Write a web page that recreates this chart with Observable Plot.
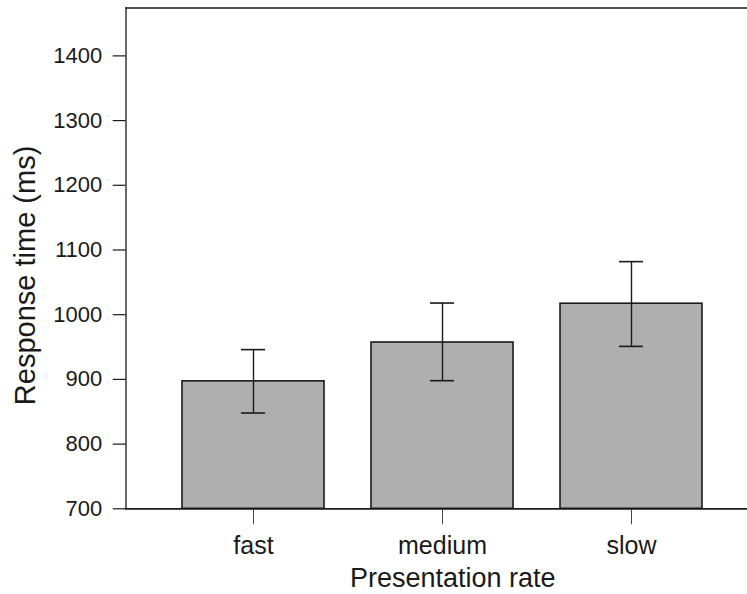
<!DOCTYPE html>
<html>
<head>
<meta charset="utf-8">
<script src="https://cdn.jsdelivr.net/npm/d3@7"></script>
<script src="https://cdn.jsdelivr.net/npm/@observablehq/plot@0.6"></script>
<style>
  html, body { margin: 0; padding: 0; background: #fff; overflow: hidden; }
</style>
</head>
<body>
<div id="chart"></div>
<script>
const categories = ["fast", "medium", "slow"];
const means = [897, 957, 1017];
const lower = [848, 898, 951];
const upper = [946, 1018, 1082];
const yTicks = [700, 800, 900, 1000, 1100, 1200, 1300, 1400];
const yDomain = [700, 1474];
const xTitle = "Presentation rate";
const yTitle = "Response time (ms)";

const data = categories.map((c, i) => ({cat: c, mean: means[i], lo: lower[i], hi: upper[i], base: yDomain[0]}));

const ink = "#1a1a1a";

const chart = Plot.plot({
  width: 747,
  height: 594,
  marginLeft: 125.5,
  marginRight: 0,
  marginTop: 7.5,
  marginBottom: 85.7,
  style: {fontFamily: "'Liberation Sans', Arial, sans-serif", color: ink, background: "#fff"},
  x: {domain: categories, range: [125.5, 758.3], paddingInner: 0.25, paddingOuter: 0.293, axis: null},
  y: {domain: yDomain, axis: null},
  marks: [
    Plot.barY(data, {x: "cat", y1: "base", y2: "mean", fill: "#afafaf", stroke: ink, strokeWidth: 1.6}),
    Plot.ruleX(data, {x: "cat", y1: "lo", y2: "hi", stroke: ink, strokeWidth: 1.4}),
    Plot.tickY(data, {x: "cat", y: "lo", stroke: ink, strokeWidth: 1.6, insetLeft: 59, insetRight: 59}),
    Plot.tickY(data, {x: "cat", y: "hi", stroke: ink, strokeWidth: 1.6, insetLeft: 59, insetRight: 59}),
    Plot.axisX({domain: categories, tickSize: 16, tickPadding: 11, fontSize: 25, stroke: "#444", strokeWidth: 1, label: null}),
    Plot.axisY({ticks: yTicks, tickFormat: d => String(d), tickSize: 12.8, tickPadding: 11, fontSize: 22, stroke: ink, strokeWidth: 1.2, label: null}),
    Plot.frame({anchor: "left", stroke: ink, strokeWidth: 1.3}),
    Plot.frame({anchor: "top", stroke: ink, strokeWidth: 1.3}),
    Plot.frame({anchor: "bottom", stroke: ink, strokeWidth: 1.8}),
    Plot.text([xTitle], {text: d => d, frameAnchor: "bottom", textAnchor: "middle", lineAnchor: "middle", dx: 16, dy: 69.5, fontSize: 27, fill: ink}),
    Plot.text([yTitle], {text: d => d, frameAnchor: "left", textAnchor: "middle", lineAnchor: "middle", rotate: -90, dx: -100, dy: 17, fontSize: 29, fill: ink})
  ]
});
document.getElementById("chart").appendChild(chart);
</script>
</body>
</html>
